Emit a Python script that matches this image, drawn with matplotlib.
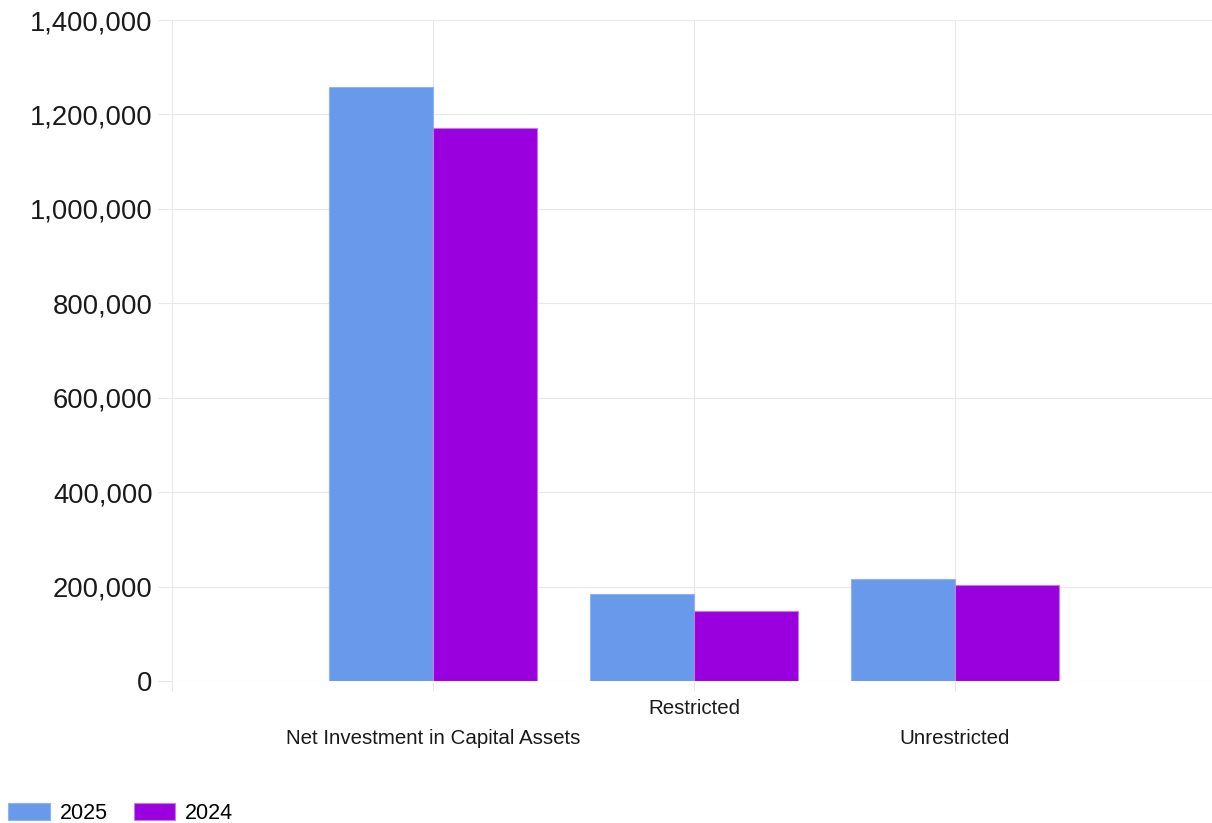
import matplotlib
matplotlib.use("Agg")
import matplotlib.pyplot as plt
from matplotlib.ticker import FuncFormatter, FixedLocator
import numpy as np

# Net position by component, two fiscal years
categories = ["Net Investment in Capital Assets", "Restricted", "Unrestricted"]
years = ["2025", "2024"]
values_2025 = [1258000, 184000, 215000]
values_2024 = [1171000, 149000, 203000]
y_ticks = [0, 200000, 400000, 600000, 800000, 1000000, 1200000, 1400000]

colors = ["#6899eb", "#9900dd"]
edges = ["#8fb3f0", "#c27ae8"]

plt.rcParams["font.family"] = ["Liberation Sans", "DejaVu Sans"]

DPI = 100
fig = plt.figure(figsize=(12.12, 8.23), dpi=DPI)
ax = fig.add_axes([172 / 1212, 1 - 681 / 823, 1 - 172 / 1212, (681 - 20) / 823])

x = np.arange(len(categories))
width = 0.4
for i, (vals, col, ec) in enumerate(zip([values_2025, values_2024], colors, edges)):
    ax.bar(x + (i - 0.5) * width, vals, width=width, color=col,
           edgecolor=ec, linewidth=0.8, label=years[i], zorder=3)

ax.set_xlim(-1, 2.985)
ax.set_ylim(0, 1400000)

# grid and ticks
grid_col = "#e8e8e8"
ax.set_yticks(y_ticks)
ax.yaxis.set_major_formatter(FuncFormatter(lambda v, p: f"{int(v):,}"))
ax.set_xticks(x)
ax.set_xticklabels(categories)
ax.xaxis.set_minor_locator(FixedLocator([-1, 3]))

ax.grid(True, which="both", color=grid_col, linewidth=0.8, zorder=0)
ax.set_axisbelow(True)
for s in ax.spines.values():
    s.set_visible(False)

ax.tick_params(axis="y", which="major", length=10, width=0.8, color=grid_col,
               pad=4, labelsize=19.7, labelcolor="#1a1a1a")
ax.tick_params(axis="x", which="both", length=7, width=0.8, color=grid_col,
               labelsize=14.8, labelcolor="#1a1a1a")

# staggered category labels
pads = [27.5, 6, 27.5]
for tick, p in zip(ax.xaxis.get_major_ticks(), pads):
    tick.set_pad(p)

fig.legend(loc="lower left", bbox_to_anchor=(8 / 1212, -1 / 823), ncol=2,
           frameon=False, fontsize=15.5, handlelength=1.95, handleheight=0.88,
           handletextpad=0.45, columnspacing=1.2, borderpad=0, borderaxespad=0)

fig.savefig("out.png", dpi=DPI)
